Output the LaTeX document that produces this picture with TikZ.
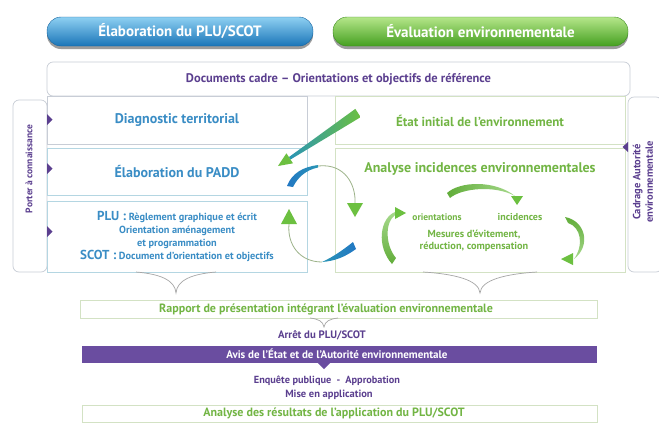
\documentclass[tikz,border=0pt]{standalone}
\usepackage{fontspec}
\setmainfont{PT Sans}
\usetikzlibrary{shadows}
\definecolor{purp}{HTML}{5B3F8F}
\definecolor{bluet}{HTML}{3A8DC5}
\definecolor{greent}{HTML}{72B544}
\definecolor{bandc}{HTML}{6A4DA0}
\definecolor{arrg}{HTML}{6CC040}
\definecolor{tealc}{HTML}{2A95B5}
\definecolor{lineg}{HTML}{C8CDD6}
\definecolor{linegr}{HTML}{D3E2C4}
\definecolor{lineb}{HTML}{B4D6E2}
\definecolor{thinl}{HTML}{9DB38A}
\begin{document}
\begin{tikzpicture}[x=1pt,y=-1pt,
  pill/.style={rounded corners=14pt, minimum height=29pt, text=white,
    font=\bfseries\fontsize{15}{16}\selectfont,
    drop shadow={shadow xshift=0pt, shadow yshift=-3pt, opacity=0.55, fill=black!70}},
  colbox/.style={draw=#1, line width=0.7pt, fill=white, inner sep=2pt},
  tabbox/.style={draw=lineg, line width=0.7pt, fill=white, rounded corners=6pt},
  marker/.style={fill=purp},
  brace/.style={draw=black!35, line width=0.7pt},
  thinarr/.style={draw=thinl, line width=0.8pt},
  hd/.style={fill=arrg}
]
\useasboundingbox (0,0) rectangle (659,424);
\fill[white] (0,0) rectangle (659,424);

% title pills
\node[pill, top color={rgb,255:red,142;green,208;blue,242}, bottom color={rgb,255:red,26;green,117;blue,184}, draw={rgb,255:red,22;green,100;blue,160}, minimum width=266pt] (tplu) at (180,31.5) {Élaboration du PLU/SCOT};
\node[pill, top color={rgb,255:red,181;green,230;blue,138}, bottom color={rgb,255:red,69;green,160;blue,32}, draw={rgb,255:red,60;green,140;blue,30}, minimum width=295pt] (tenv) at (480.5,31.5) {Évaluation environnementale};

% side tabs
\node[tabbox, minimum width=34pt, minimum height=172pt] (ltab) at (30,186) {};
\node[rotate=90, text=purp, font=\bfseries\fontsize{9.5}{10}\selectfont] (porter) at (29,169) {Porter à connaissance};
\node[tabbox, minimum width=34pt, minimum height=175pt] (rtab) at (645,184.5) {};
\node[rotate=90, text=purp, align=center, font=\bfseries\fontsize{10.5}{12.5}\selectfont] (cadrage) at (643,182) {Cadrage Autorité\\environnementale};

% documents cadre
\node[colbox=lineg, rounded corners=6pt, minimum width=583pt, minimum height=34pt, text=purp, font=\bfseries\fontsize{12.5}{14}\selectfont] (docs) at (338.5,79) {Documents cadre – Orientations et objectifs de référence};

% left column
\node[colbox=lineg, minimum width=260pt, minimum height=48pt, text=bluet, font=\bfseries\fontsize{14}{16}\selectfont] (diag) at (177,120.5) {Diagnostic territorial};
\node[colbox=lineb, minimum width=260pt, minimum height=47pt, text=bluet, font=\bfseries\fontsize{14}{16}\selectfont] (padd) at (177,171.5) {Élaboration du PADD};
\node[colbox=lineb, minimum width=260pt, minimum height=71pt, text=bluet, align=center, font=\bfseries\fontsize{10.3}{13}\selectfont] (plu) at (177,236.5)
 {{\fontsize{13}{13}\selectfont PLU :} Règlement graphique et écrit\\Orientation aménagement\\et programmation\\{\fontsize{13}{13}\selectfont SCOT :} Document d'orientation et objectifs};

% right column
\node[colbox=linegr, minimum width=290pt, minimum height=48pt, text=greent, font=\bfseries\fontsize{13}{15}\selectfont] (etat) at (480,120.5) {État initial de l'environnement};
\node[colbox=linegr, minimum width=290pt, minimum height=124pt] (anal) at (480,210) {};
\node[text=greent, font=\bfseries\fontsize{14}{16}\selectfont] (analt) at (480,169) {Analyse incidences environnementales};
\node[text=greent, font=\bfseries\fontsize{9.5}{10}\selectfont] (orient) at (437,217) {orientations};
\node[text=greent, font=\bfseries\fontsize{10}{10}\selectfont] (incid) at (520,217) {incidences};
\node[text=greent, align=center, font=\bfseries\fontsize{10.3}{12.5}\selectfont] (mesures) at (474,241) {Mesures d'évitement,\\réduction, compensation};

% markers
\fill[marker] (47,114) -- (52.5,119.5) -- (47,125) -- cycle;
\fill[marker] (47,163) -- (52.5,168.5) -- (47,174) -- cycle;
\fill[marker] (47,226) -- (52.5,231.5) -- (47,237) -- cycle;
\fill[marker] (628,142) -- (622.5,147) -- (628,152) -- cycle;

% arrow 1: etat -> padd
\shade[left color=tealc, right color=arrg] (355.3,108.9) -- (360.7,117.1) -- (290.5,159.5) -- (288.9,157.1) -- cycle;
\fill[hd] (293.0,163.3) -- (286.4,153.3) -- (278,166) -- cycle;

% arrow 2: padd -> analyse
\shade[left color=tealc!80!blue, right color=tealc] (287,186) .. controls (292,173) and (303,167) .. (318,165) -- (318,167.5) .. controls (306,170) and (298,177) .. (293,187) -- cycle;
\draw[thinarr] (318,166) .. controls (345,163) and (356,185) .. (355,203);
\fill[hd] (347,203) -- (363,203) -- (355,217) -- cycle;

% arrow 3: analyse -> plu
\shade[left color=tealc, right color=tealc!80!blue] (353,242) -- (356,249) .. controls (345,257) and (335,261) .. (322,262) .. controls (333,257) and (343,250) .. (353,242) -- cycle;
\draw[thinarr] (322,262) .. controls (300,262) and (287,245) .. (289,224);
\fill[hd] (281,224) -- (297,224) -- (289,209) -- cycle;

% inner arrows
\shade[left color=arrg!90!black, right color=arrg!60] (447,193) .. controls (460,181) and (495,180) .. (515,196) .. controls (495,185) and (462,188) .. (450,198) -- cycle;
\fill[hd] (511,196) -- (523,196) -- (517,205) -- cycle;
\shade[top color=arrg!60, bottom color=arrg!90!black] (395,212) .. controls (380,218) and (376,246) .. (392,264) -- (396,258) .. controls (385,245) and (385,222) .. (395,215) -- cycle;
\fill[hd] (395,207) -- (395,219) -- (406,213) -- cycle;
\shade[top color=arrg!90!black, bottom color=arrg!60] (565,217) .. controls (586,221) and (591,246) .. (574,259) .. controls (584,245) and (581,227) .. (568,223) -- cycle;
\fill[hd] (573,253) -- (573,265) -- (561,259) -- cycle;

% braces
\draw[brace] (136,272) .. controls (160,274) and (175,280) .. (176,293) .. controls (177,280) and (192,274) .. (216,272);
\draw[brace] (423,272) .. controls (455,274) and (479,280) .. (480,293) .. controls (481,280) and (505,274) .. (537,272);

% bottom chain
\node[colbox=linegr, minimum width=517pt, minimum height=18pt] (rapport) at (338.5,309) {};
\node[text=greent, font=\bfseries\fontsize{12}{13}\selectfont] (rapportt) at (326,309.5) {Rapport de présentation intégrant l'évaluation environnementale};
\draw[brace] (310,318) .. controls (318,319) and (323,321) .. (324,327) .. controls (325,321) and (330,319) .. (338,318);
\node[text=purp, font=\bfseries\fontsize{10.8}{12}\selectfont] (arret) at (322,335.5) {Arrêt du PLU/SCOT};
\node[fill=bandc, minimum width=515pt, minimum height=17pt, inner sep=0pt] (band) at (339.5,354) {};
\node[text=white, font=\bfseries\fontsize{11}{12}\selectfont] (avis) at (337,354) {Avis de l'État et de l'Autorité environnementale};
\fill[bandc] (317,362) -- (331,362) -- (324,369) -- cycle;
\node[text=purp, font=\bfseries\fontsize{10.3}{12}\selectfont] (enq) at (327,380.5) {Enquête publique \ - \ Approbation};
\node[text=purp, font=\bfseries\fontsize{10.5}{12}\selectfont] (mise) at (329,394.5) {Mise en application};
\node[colbox=linegr, minimum width=515pt, minimum height=17pt] (resul) at (339.5,413.5) {};
\node[text=greent, font=\bfseries\fontsize{12}{13}\selectfont] (result) at (334,413.5) {Analyse des résultats de l'application du PLU/SCOT};
\end{tikzpicture}
\end{document}
